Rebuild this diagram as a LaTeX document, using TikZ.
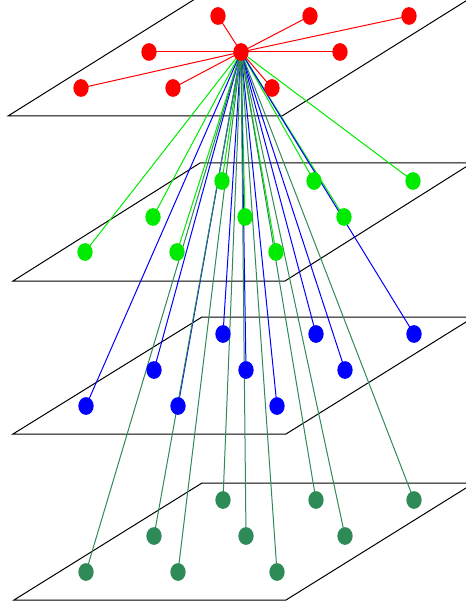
\documentclass[tikz,border=0pt]{standalone}
\usetikzlibrary{shapes.geometric}
\definecolor{cred}{RGB}{255,0,0}
\definecolor{clime}{RGB}{0,235,0}
\definecolor{cblue}{RGB}{0,0,255}
\definecolor{csea}{RGB}{46,139,87}
\pgfdeclarelayer{planes}
\pgfdeclarelayer{edges}
\pgfsetlayers{planes,edges,main}
\tikzset{
  dot/.style={ellipse, minimum width=11.5pt, minimum height=13.3pt, inner sep=0pt, draw=none},
  plane/.style={draw=black, line width=0.75pt},
  link/.style={line width=0.75pt},
}
\begin{document}
\begin{tikzpicture}[x=0.75pt,y=-0.75pt]
\useasboundingbox (0,0) rectangle (466,609);
\clip (0,0) rectangle (466,609);
% planes
\begin{pgfonlayer}{planes}
\draw[plane] (8,116) -- (282,116) -- (469,-1) -- (195,-1) -- cycle;
\draw[plane] (13,281) -- (285,281) -- (472,163) -- (200,163) -- cycle;
\draw[plane] (13,434) -- (286,434) -- (474,317) -- (202,317) -- cycle;
\draw[plane] (14,600) -- (286,600) -- (474,483) -- (202,483) -- cycle;
\end{pgfonlayer}
% nodes
\foreach \n/\x/\y in {1/218/16,2/310/16,3/409/16,4/149/52,5/241/52,6/340/52,7/81/88,8/173/88,9/272/88}
  \node[dot, fill=cred] (r\n) at (\x,\y) {};
\foreach \n/\x/\y in {1/222/181,2/314/181,3/413/181,4/153/217,5/245/217,6/344/217,7/85/252,8/177/252,9/276/252}
  \node[dot, fill=clime] (g\n) at (\x,\y) {};
\foreach \n/\x/\y in {1/223/334,2/316/334,3/414/334,4/154/370,5/246/370,6/345/370,7/86/406,8/178/406,9/277/406}
  \node[dot, fill=cblue] (b\n) at (\x,\y) {};
\foreach \n/\x/\y in {1/223/500,2/316/500,3/414/500,4/154/536,5/246/536,6/345/536,7/86/572,8/178/572,9/277/572}
  \node[dot, fill=csea] (s\n) at (\x,\y) {};
% edges
\begin{pgfonlayer}{edges}
\foreach \n in {1,2,3,4,6,7,8,9}
  \draw[link, cred] (r5.center) -- (r\n.center);
\foreach \n in {1,...,9}
  \draw[link, clime] (r5.center) -- (g\n.center);
\foreach \n in {1,...,9}
  \draw[link, cblue] (r5.center) -- (b\n.center);
\foreach \n in {1,...,9}
  \draw[link, csea] (r5.center) -- (s\n.center);
\end{pgfonlayer}
\end{tikzpicture}
\end{document}
